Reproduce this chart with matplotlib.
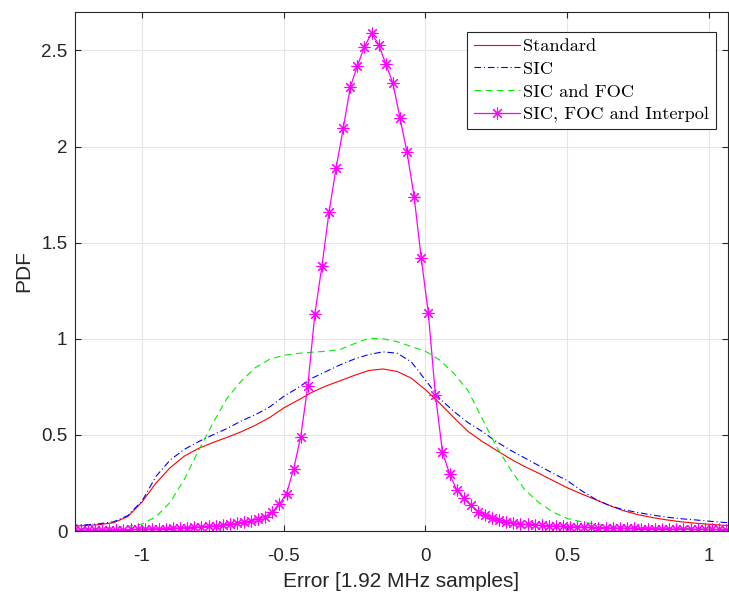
import numpy as np
import matplotlib
matplotlib.use('Agg')
import matplotlib.pyplot as plt
from matplotlib.ticker import FuncFormatter

plt.rcParams['font.family'] = ['Liberation Sans', 'DejaVu Sans']
plt.rcParams['axes.unicode_minus'] = False

# smooth PDF curves, sampled every 0.05
x_curve = np.round(np.arange(-1.25, 1.1001, 0.05), 3)
pdf_standard = [0.025, 0.028, 0.033, 0.043, 0.075, 0.15, 0.25, 0.33, 0.39, 0.43,
                0.46, 0.487, 0.516, 0.55, 0.59, 0.64, 0.68, 0.722, 0.755, 0.782,
                0.81, 0.835, 0.843, 0.83, 0.795, 0.735, 0.665, 0.59, 0.518, 0.466,
                0.42, 0.375, 0.335, 0.30, 0.262, 0.225, 0.193, 0.163, 0.132, 0.105,
                0.085, 0.07, 0.058, 0.048, 0.041, 0.035, 0.03, 0.026]
pdf_sic = [0.03, 0.032, 0.038, 0.048, 0.08, 0.155, 0.285, 0.37, 0.425, 0.465,
           0.50, 0.533, 0.572, 0.605, 0.645, 0.70, 0.745, 0.795, 0.83, 0.865,
           0.895, 0.918, 0.932, 0.925, 0.88, 0.785, 0.69, 0.622, 0.564, 0.518,
           0.465, 0.42, 0.38, 0.34, 0.30, 0.262, 0.21, 0.165, 0.132, 0.11,
           0.096, 0.083, 0.072, 0.064, 0.058, 0.051, 0.045, 0.041]
pdf_sic_foc = [0.012, 0.013, 0.015, 0.018, 0.024, 0.036, 0.075, 0.15, 0.27, 0.42,
               0.56, 0.69, 0.78, 0.85, 0.893, 0.914, 0.924, 0.93, 0.935, 0.945,
               0.975, 1.003, 1.0, 0.985, 0.96, 0.935, 0.89, 0.82, 0.73, 0.585,
               0.44, 0.32, 0.215, 0.148, 0.098, 0.065, 0.048, 0.035, 0.027, 0.021,
               0.018, 0.016, 0.014, 0.013, 0.012, 0.011, 0.010, 0.010]

# marker series, sampled every 0.025
x_interp = np.round(np.arange(-1.24, 1.0601, 0.025), 3)
pdf_interp = [0.004, 0.005, 0.005, 0.005, 0.006, 0.006, 0.007, 0.007, 0.008, 0.009,
              0.010, 0.011, 0.012, 0.013, 0.015, 0.016, 0.018, 0.020, 0.022, 0.025,
              0.028, 0.031, 0.035, 0.040, 0.045, 0.054, 0.062, 0.074, 0.099, 0.14,
              0.195, 0.322, 0.49, 0.755, 1.13, 1.38, 1.66, 1.89, 2.095, 2.31,
              2.42, 2.52, 2.59,
              2.53, 2.43, 2.33, 2.15, 1.97, 1.74, 1.42, 1.135, 0.71, 0.41,
              0.298, 0.213, 0.172, 0.134, 0.10, 0.083, 0.066, 0.056, 0.047, 0.043,
              0.038, 0.034, 0.031, 0.029, 0.027, 0.025, 0.024, 0.022, 0.021, 0.020,
              0.019, 0.018, 0.017, 0.016, 0.015, 0.014, 0.014, 0.013, 0.012, 0.012,
              0.011, 0.011, 0.010, 0.010, 0.009, 0.009, 0.008, 0.008, 0.008, 0.007]

labels = ['Standard', 'SIC', 'SIC and FOC', 'SIC, FOC and Interpol']

fig = plt.figure(figsize=(7.29, 5.98), dpi=100)
ax = fig.add_axes([75/729, 67/598, 653/729, 519/598])

ax.plot(x_curve, pdf_standard, color='#ff0000', lw=0.8, label=labels[0])
ax.plot(x_curve, pdf_sic, color='#0000ff', lw=0.8, ls=(0, (6, 2.5, 1, 2.5)), label=labels[1])
ax.plot(x_curve, pdf_sic_foc, color='#00ee00', lw=0.8, ls=(0, (6, 4)), label=labels[2])
ax.plot(x_interp, pdf_interp, color='#ff00ff', lw=0.9, marker=(8, 2, 0), ms=8.5, mew=0.8,
        label=labels[3])

ax.set_xlim(-1.236, 1.067)
ax.set_ylim(0, 2.7)
ax.set_xticks([-1, -0.5, 0, 0.5, 1])
ax.set_yticks([0, 0.5, 1, 1.5, 2, 2.5])
fmt = FuncFormatter(lambda v, p: '%g' % v)
ax.xaxis.set_major_formatter(fmt)
ax.yaxis.set_major_formatter(fmt)

ax.grid(True, color='#e6e6e6', lw=0.8)
ax.set_axisbelow(True)
for s in ax.spines.values():
    s.set_color('#262626')
    s.set_linewidth(0.8)
ax.tick_params(direction='in', length=4, width=0.8, colors='#262626', labelsize=13.5,
               top=True, right=True)
ax.tick_params(axis='x', pad=12)
ax.tick_params(axis='y', pad=5.5)

ax.set_xlabel('Error [1.92 MHz samples]', fontsize=15, color='#262626', labelpad=5)
ax.set_ylabel('PDF', fontsize=15, color='#262626', labelpad=6)

leg = ax.legend(loc='upper right', bbox_to_anchor=(0.981, 0.962), prop={'family': 'cmr10', 'size': 13.2},
                frameon=True, fancybox=False, framealpha=1, edgecolor='#262626',
                handlelength=2.5, handletextpad=0.2, borderpad=0.35, labelspacing=0.38,
                borderaxespad=0)
leg.get_frame().set_linewidth(0.8)

fig.savefig('out.png', dpi=100)
